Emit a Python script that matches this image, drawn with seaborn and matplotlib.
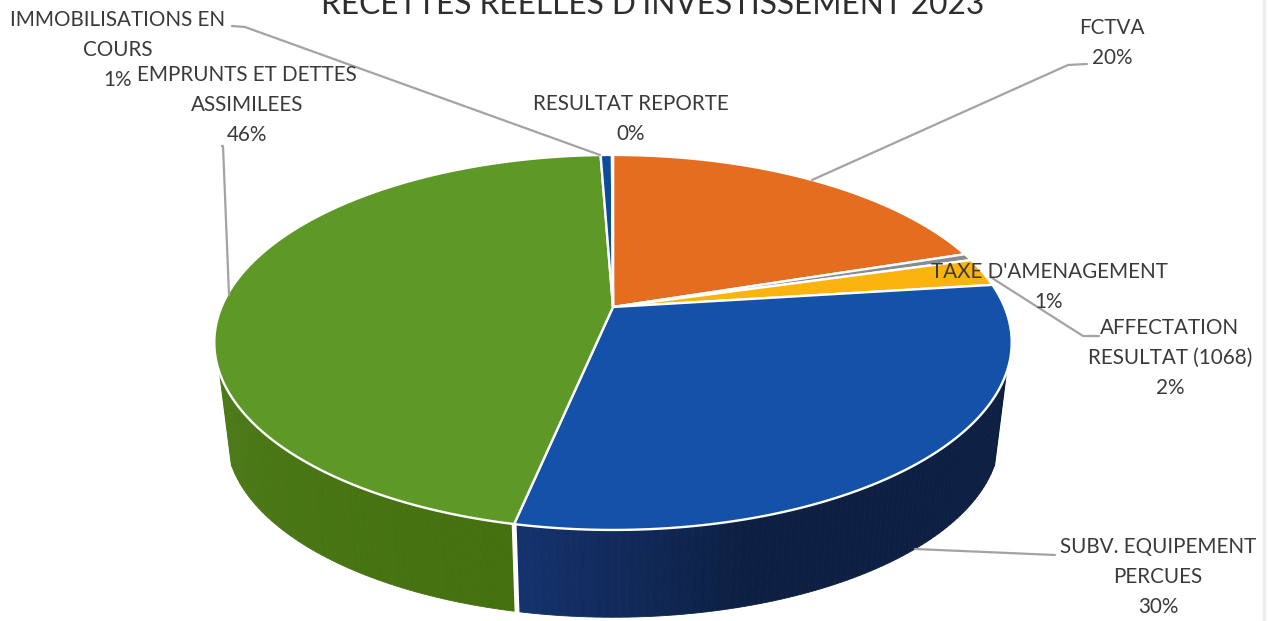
import numpy as np
import matplotlib
matplotlib.use("Agg")
import matplotlib.pyplot as plt
import seaborn as sns

# Investment receipts, in percent of the total, clockwise from twelve o'clock
categories = ["FCTVA", "TAXE D'AMENAGEMENT", "AFFECTATION\nRESULTAT (1068)",
              "SUBV. EQUIPEMENT\nPERCUES", "EMPRUNTS ET DETTES\nASSIMILEES",
              "IMMOBILISATIONS EN\nCOURS", "RESULTAT REPORTE"]
shares = [20.0, 0.6, 2.4, 30.3, 46.1, 0.55, 0.05]
top_colors = ["#E46D1F", "#868C96", "#FBB30F", "#1451A8", "#5E9827", "#0C4C9C", "#2A4A80"]
wall_near = ["#9A4A14", "#5A5E66", "#A87808", "#15336F", "#4E7B1A", "#082F60", "#1A2E50"]
wall_far = ["#9A4A14", "#5A5E66", "#A87808", "#0D2043", "#44700F", "#082F60", "#1A2E50"]
title = "RECETTES REELLES D'INVESTISSEMENT 2023"

sns.set_theme(style="white")
plt.rcParams["font.family"] = ["Lato", "DejaVu Sans"]

W, H = 1274, 621
fig = plt.figure(figsize=(W / 100, H / 100), dpi=100, facecolor="white")
ax = fig.add_axes([0, 0, 1, 1])
ax.set_xlim(0, W)
ax.set_ylim(H, 0)
ax.axis("off")

# Perspective of the disc: the far side shrinks, so the apex sits above the ellipse centre
CX, CY, RX, RY, K = 613, 307, 391.5, 180.8, 0.189
FLOOR_CY, FLOOR_SCALE = 401, 0.97
WALL_FROM, WALL_TO = 0.61 * np.pi, 1.39 * np.pi


def project(theta, centre_y=CY, scale=1.0):
    u, v = np.sin(theta), np.cos(theta)
    w = 1 + K * v
    return CX + scale * RX * u / w, centre_y - scale * RY * v / w


def hex_mix(a, b, t):
    ca, cb = np.array(matplotlib.colors.to_rgb(a)), np.array(matplotlib.colors.to_rgb(b))
    return ca * (1 - t) + cb * t


edges = np.cumsum([0] + shares) / sum(shares) * 2 * np.pi

# Side wall: thin quads between rim and floor, shaded along the arc
for i, (start, stop) in enumerate(zip(edges[:-1], edges[1:])):
    lo, hi = max(start, WALL_FROM), min(stop, WALL_TO)
    if hi <= lo:
        continue
    steps = np.linspace(lo, hi, max(3, int((hi - lo) * 60)))
    for a, b in zip(steps[:-1], steps[1:]):
        xa, ya = project(a)
        xb, yb = project(b)
        xc, yc = project(b, FLOOR_CY, FLOOR_SCALE)
        xd, yd = project(a, FLOOR_CY, FLOOR_SCALE)
        if i == 3:
            # the right-hand wall lightens only close to the front seam
            t = np.clip((hi - a) / (0.35 * (hi - lo)), 0, 1)
        elif i == 4:
            t = 1 - (a - lo) / (hi - lo) * 0.9
        else:
            t = 0.5
        col = hex_mix(wall_near[i], wall_far[i], t)
        ax.fill([xa, xb, xc, xd], [ya, yb, yc, yd], color=col, lw=0.6, zorder=2)

# White seam on the wall where the two front slices meet
seam = edges[4]
sx0, sy0 = project(seam)
sx1, sy1 = project(seam, FLOOR_CY, FLOOR_SCALE)
ax.plot([sx0, sx1], [sy0, sy1 + 2], color="white", lw=3.5, zorder=3, solid_capstyle="butt")

# Top face, one polygon per slice
for i, (start, stop) in enumerate(zip(edges[:-1], edges[1:])):
    arc = np.linspace(start, stop, max(3, int((stop - start) * 120)))
    xs, ys = project(arc)
    ax.fill(np.r_[CX, xs], np.r_[CY, ys], facecolor=top_colors[i], edgecolor="white",
            lw=1.7, joinstyle="round", zorder=4)

# Leader lines
leader_color = "#A3A3A3"
leaders = [
    ([232, 245, 600], [26, 27, 155]),
    ([222, 223, 229], [146, 146, 295]),
    ([1087, 1068, 812], [64, 65, 180]),
    ([1099, 1083, 992], [336, 336, 278]),
    ([915, 1055], [549, 555]),
]
for lx, ly in leaders:
    ax.plot(lx, ly, color=leader_color, lw=1.6, zorder=5, solid_joinstyle="round")

# Category labels with their rounded share, centred on the block
label_spots = [(1112, 43), (1049, 287), (1170, 358), (1158, 577), (247, 105), (118, 50), (631, 119)]
for name, share, (x, y) in zip(categories, shares, label_spots):
    ax.text(x, y, f"{name}\n{share:.0f}%", ha="center", va="center", fontsize=14.9,
            color="#3A3A3A", linespacing=1.64, zorder=6)

ax.text(653, 14, title, ha="center", va="baseline", fontsize=22.8, color="#2E2E2E", zorder=6)

# Pale edge of the scanned page
ax.plot([1264, 1264], [0, H], color="#EDEDED", lw=2.5, zorder=1)

fig.savefig("out.png", dpi=100, facecolor="white")
